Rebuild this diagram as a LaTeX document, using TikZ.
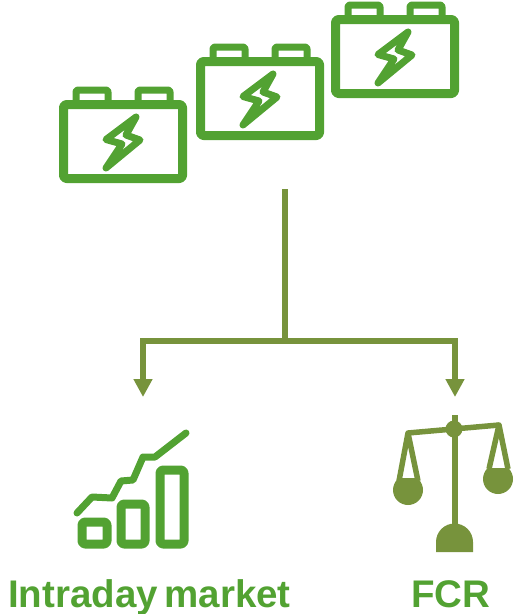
\documentclass[tikz,border=0pt]{standalone}
\usepackage{fontspec}
\setmainfont{Liberation Sans}
\usetikzlibrary{arrows.meta}
\definecolor{icongreen}{HTML}{52A232}
\definecolor{linkolive}{HTML}{77933C}
\begin{document}
\begin{tikzpicture}[x=1pt,y=-1pt]
\tikzset{
icon line/.style={draw=icongreen,line width=9pt,rounded corners=3pt,line join=round},
thin icon/.style={draw=icongreen,line width=7pt,line join=round,line cap=round},
link/.style={draw=linkolive,line width=6pt},
arrow link/.style={link,-{Triangle[width=18pt,length=18pt]}},
scale line/.style={draw=linkolive,line width=5.5pt,line join=round},
scale fill/.style={fill=linkolive},
market label/.style={text=icongreen,font=\fontsize{38.5}{42}\selectfont\bfseries,inner sep=0,anchor=base},
pics/battery/.style={code={
    \draw[thin icon,rounded corners=2pt,line cap=butt] (76,101) -- (76,90) -- (108,90) -- (108,101);
    \draw[thin icon,rounded corners=2pt,line cap=butt] (138,101) -- (138,90) -- (170,90) -- (170,101);
    \draw[icon line] (63.5,104.5) rectangle (182.5,178.5);
    \draw[thin icon] (136,117) -- (106,139.5) -- (122,144) -- (106,168) -- (140,140) -- (126,135) -- cycle;
}}
}
\useasboundingbox (0,0) rectangle (516,614);

% batteries
\pic (batt1) at (0,0) {battery};
\pic (batt2) at (137,-43) {battery};
\pic (batt3) at (272,-85) {battery};

% connectors
\coordinate (source) at (285,189);
\coordinate (branch) at (285,341);
\coordinate (intraday in) at (143,397);
\coordinate (fcr in) at (455,397);
\draw[link] (source) -- (branch);
\draw[arrow link] (branch) -| (intraday in);
\draw[arrow link] (branch) -| (fcr in);

% chart
\draw[thin icon] (77,513) -- (92,497) -- (112,498) -- (121,481) -- (133,480) -- (143,457) -- (155,457) -- (186,433);
\draw[icon line] (82,522) rectangle (107,544);
\draw[icon line] (121,504) rectangle (145,544);
\draw[icon line] (160,470) rectangle (184,544);

% scales
\draw[link,line width=6.5pt] (455,415) -- (455,530);
\draw[scale line] (408,433) -- (499,425);
\node (pivot)[circle,scale fill,minimum size=17pt,inner sep=0] at (454,429) {};
\fill[linkolive] (436,552) -- (436,542) arc[start angle=180,end angle=360,radius=18.5] -- (473,552) -- cycle;
\draw[scale line] (399,481) -- (408,433) -- (418,481);
\draw[scale line] (489,469) -- (499,425) -- (508,469);
\begin{scope}
\clip (380,478) rectangle (430,510);
\fill[linkolive] (408,490) circle (15);
\end{scope}
\begin{scope}
\clip (470,468) rectangle (516,500);
\fill[linkolive] (498,479) circle (15);
\end{scope}

% labels
\node (intraday)[market label] at (149.5,607) {Intraday\kern-4pt\ market};
\node (fcr)[market label] at (451,607) {FCR};
\end{tikzpicture}
\end{document}
